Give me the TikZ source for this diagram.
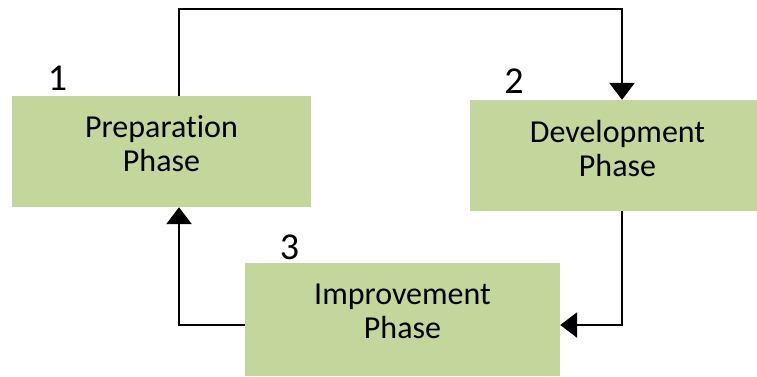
\documentclass[tikz,border=0pt]{standalone}
\usepackage{fontspec}
\setmainfont{Carlito}[Ligatures=NoCommon]
\usetikzlibrary{arrows.meta}
\definecolor{phasegreen}{HTML}{C3D69B}
\tikzset{
  phasebox/.style={fill=phasegreen, draw=none, inner sep=0pt, anchor=center},
  phasetext/.style={align=center, inner sep=0pt, font=\fontsize{32}{34}\selectfont},
  numlabel/.style={anchor=base, inner sep=0pt, font=\fontsize{38}{40}\selectfont},
  flow/.style={line width=2.8pt, -{Triangle[width=25pt,length=17pt]}}
}
\begin{document}
\begin{tikzpicture}[x=1pt,y=-1pt]
\useasboundingbox (0,0) rectangle (757,376);
\node[phasebox, minimum width=299pt, minimum height=111pt] (prep) at (161.5,151.5) {};
\node[phasebox, minimum width=295pt, minimum height=111pt] (dev) at (617.5,155.5) {};
\node[phasebox, minimum width=315pt, minimum height=113pt] (imp) at (402.5,319.5) {};
\node[phasetext] (preptext) at ([yshift=8pt]prep.center) {Preparation\\Phase};
\node[phasetext] (devtext) at ([yshift=7pt]dev.center) {Development\\Phase};
\node[phasetext] (imptext) at ([yshift=8.5pt]imp.center) {Improvement\\Phase};
\node[numlabel] (n1) at (57.5,90) {1};
\node[numlabel] (n2) at (514,93) {2};
\node[numlabel] (n3) at (289.5,259) {3};
\coordinate (c1) at (179,9);
\coordinate (c2) at (622,9);
\coordinate (c3) at (622,325);
\coordinate (c4) at (179,325);
\draw[flow] (prep.north -| c1) -- (c1) -- (c2) -- (dev.north -| c2);
\draw[flow] (dev.south -| c3) -- (c3) -- (imp.east |- c3);
\draw[flow] (imp.west |- c4) -- (c4) -- (prep.south -| c4);
\end{tikzpicture}
\end{document}
